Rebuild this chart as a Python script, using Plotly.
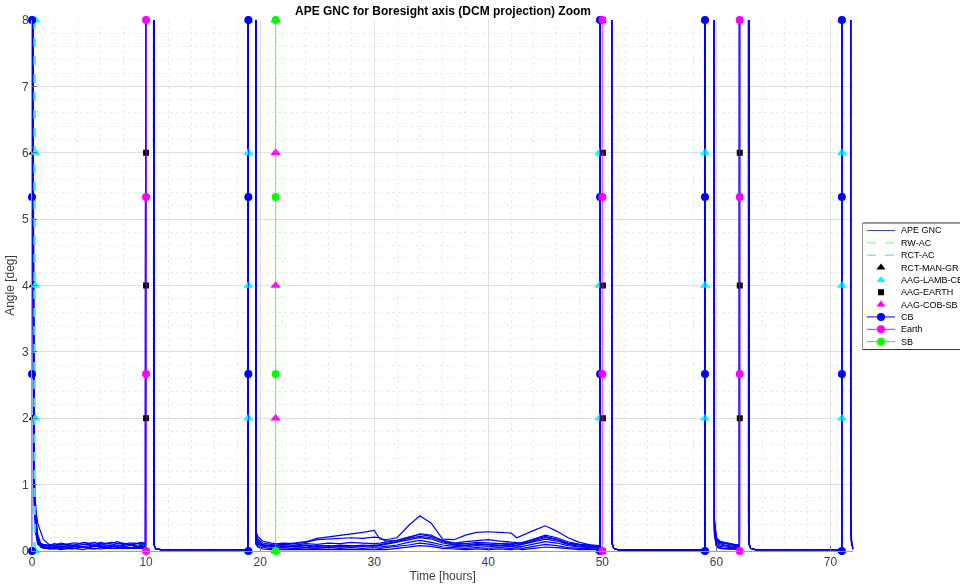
import plotly.graph_objects as go

# ------------------------------------------------------------------ data
x_range = [0, 72]
y_range = [0, 8]
x_ticks = [0, 10, 20, 30, 40, 50, 60, 70]
y_ticks = [0, 1, 2, 3, 4, 5, 6, 7, 8]

# event lines (hours)
cb_times = [0.0, 18.97, 49.8, 59.0, 71.0]
earth_times = [10.0, 50.0, 62.05]
sb_times = [21.36]
event_levels = [0.0, 8 / 3, 16 / 3, 8.0]

rw_ac_times = [0.22]
rct_ac_times = [0.25]
rct_man_gr_times = [0.05]
aag_lamb_cb_times = [0.3, 18.97, 49.75, 59.0, 71.0]
aag_earth_times = [10.0, 50.05, 62.05]
aag_cob_sb_times = [21.36]
aag_levels = [0, 2, 4, 6, 8]

# slews (APE off scale)
slew_start = [10.0, 18.97, 49.85, 59.0, 62.05, 71.0]
slew_end = [10.64, 19.6, 50.8, 59.8, 62.8, 71.75]
slew_level = 45.0

# segment A : 0 .. 10 h
seg_A_time = [0, 0.1, 0.2, 0.35, 0.5, 0.75, 1, 1.5, 2, 2.5, 3, 3.5, 4, 4.5, 5, 5.5, 6, 6.5, 7, 7.5, 8, 8.5, 9, 9.5, 9.95]
seg_A_runs = [
    [40, 6.0, 1.2, 0.50, 0.25, 0.12, 0.09, 0.08, 0.07, 0.10, 0.09, 0.07, 0.08, 0.10, 0.10, 0.08, 0.11, 0.09, 0.09, 0.11, 0.10, 0.12, 0.12, 0.10, 0.11],
    [40, 5.0, 0.9, 0.35, 0.15, 0.08, 0.06, 0.05, 0.06, 0.04, 0.05, 0.07, 0.07, 0.05, 0.06, 0.08, 0.08, 0.06, 0.07, 0.05, 0.06, 0.08, 0.08, 0.06, 0.07],
    [40, 7.0, 1.0, 0.60, 0.42, 0.30, 0.17, 0.10, 0.09, 0.12, 0.11, 0.09, 0.10, 0.13, 0.12, 0.10, 0.13, 0.11, 0.12, 0.14, 0.11, 0.09, 0.10, 0.13, 0.12],
    [40, 4.0, 0.7, 0.30, 0.12, 0.06, 0.04, 0.04, 0.03, 0.05, 0.04, 0.03, 0.05, 0.06, 0.04, 0.03, 0.05, 0.06, 0.04, 0.05, 0.05, 0.04, 0.06, 0.05, 0.05],
    [40, 5.5, 0.8, 0.40, 0.20, 0.10, 0.08, 0.07, 0.08, 0.06, 0.07, 0.09, 0.06, 0.07, 0.08, 0.09, 0.07, 0.08, 0.09, 0.07, 0.08, 0.10, 0.07, 0.08, 0.09],
    [40, 3.5, 0.6, 0.25, 0.10, 0.07, 0.05, 0.06, 0.05, 0.07, 0.06, 0.05, 0.04, 0.06, 0.05, 0.07, 0.06, 0.05, 0.06, 0.08, 0.07, 0.05, 0.05, 0.07, 0.06],
    [40, 6.5, 1.1, 0.45, 0.18, 0.11, 0.10, 0.09, 0.11, 0.09, 0.10, 0.12, 0.12, 0.10, 0.11, 0.13, 0.10, 0.12, 0.13, 0.11, 0.12, 0.10, 0.11, 0.12, 0.10],
    [40, 4.5, 0.85, 0.28, 0.14, 0.09, 0.07, 0.03, 0.04, 0.02, 0.03, 0.04, 0.03, 0.02, 0.04, 0.03, 0.03, 0.04, 0.04, 0.03, 0.03, 0.04, 0.04, 0.03, 0.04],
]

# segment B : 10.64 .. 18.97 h (same for all runs)
seg_B_time = [10.66, 10.72, 10.85, 11.3, 18.95]
seg_B_vals = [0.35, 0.08, 0.03, 0.02, 0.02]

# segment C : 19.6 .. 49.85 h
seg_C_time = [19.62, 19.8, 20.2, 21, 22, 23, 24, 25, 26, 27, 28, 29, 30, 30.5, 31, 32, 33, 34, 35,
              36, 37, 38, 39, 40, 41, 42, 42.5, 43, 44, 45, 46, 47, 48, 49, 49.82]
seg_C_runs = [
    [0.30, 0.22, 0.15, 0.12, 0.10, 0.12, 0.14, 0.19, 0.21, 0.23, 0.26, 0.28, 0.31, 0.18, 0.17, 0.20, 0.38, 0.53,
     0.42, 0.18, 0.17, 0.24, 0.28, 0.29, 0.28, 0.27, 0.20, 0.24, 0.31, 0.38, 0.30, 0.20, 0.13, 0.09, 0.07],
    [0.25, 0.18, 0.12, 0.10, 0.12, 0.11, 0.13, 0.17, 0.18, 0.19, 0.20, 0.19, 0.21, 0.20, 0.15, 0.16, 0.20, 0.26,
     0.24, 0.15, 0.12, 0.14, 0.16, 0.17, 0.15, 0.14, 0.13, 0.12, 0.18, 0.24, 0.20, 0.14, 0.10, 0.08, 0.06],
    [0.20, 0.14, 0.09, 0.08, 0.10, 0.09, 0.11, 0.10, 0.12, 0.11, 0.13, 0.12, 0.11, 0.12, 0.13, 0.16, 0.21, 0.25,
     0.22, 0.16, 0.12, 0.11, 0.13, 0.12, 0.11, 0.12, 0.11, 0.13, 0.17, 0.22, 0.18, 0.12, 0.10, 0.09, 0.08],
    [0.15, 0.10, 0.07, 0.06, 0.05, 0.07, 0.06, 0.08, 0.07, 0.09, 0.08, 0.07, 0.09, 0.08, 0.10, 0.13, 0.17, 0.20,
     0.18, 0.12, 0.09, 0.08, 0.10, 0.09, 0.08, 0.09, 0.08, 0.10, 0.14, 0.18, 0.15, 0.10, 0.07, 0.06, 0.05],
    [0.27, 0.16, 0.10, 0.07, 0.08, 0.06, 0.05, 0.06, 0.05, 0.07, 0.06, 0.08, 0.07, 0.06, 0.07, 0.09, 0.13, 0.16,
     0.13, 0.09, 0.07, 0.06, 0.08, 0.07, 0.06, 0.07, 0.06, 0.07, 0.10, 0.14, 0.12, 0.08, 0.06, 0.05, 0.04],
    [0.12, 0.08, 0.05, 0.04, 0.03, 0.04, 0.03, 0.04, 0.05, 0.04, 0.05, 0.04, 0.05, 0.04, 0.05, 0.06, 0.09, 0.12,
     0.10, 0.06, 0.05, 0.04, 0.05, 0.04, 0.05, 0.04, 0.05, 0.04, 0.07, 0.10, 0.08, 0.05, 0.04, 0.03, 0.03],
    [0.22, 0.12, 0.08, 0.09, 0.07, 0.08, 0.09, 0.07, 0.08, 0.06, 0.07, 0.09, 0.08, 0.09, 0.11, 0.14, 0.19, 0.22,
     0.20, 0.14, 0.10, 0.09, 0.11, 0.10, 0.09, 0.10, 0.09, 0.11, 0.15, 0.20, 0.17, 0.11, 0.09, 0.07, 0.06],
    [0.10, 0.06, 0.03, 0.02, 0.02, 0.03, 0.02, 0.03, 0.02, 0.03, 0.02, 0.03, 0.02, 0.03, 0.02, 0.04, 0.06, 0.08,
     0.07, 0.04, 0.03, 0.02, 0.03, 0.02, 0.03, 0.02, 0.03, 0.02, 0.04, 0.06, 0.05, 0.03, 0.02, 0.02, 0.02],
]

# segment D : 50.8 .. 59.0 h
seg_D_time = [50.82, 50.88, 51.0, 51.4, 58.98]
seg_D_vals = [0.4, 0.1, 0.04, 0.015, 0.015]

# segment E : 59.8 .. 62.05 h
seg_E_time = [59.82, 60.0, 60.3, 60.7, 61.2, 61.6, 62.02]
seg_E_runs = [
    [0.50, 0.20, 0.15, 0.13, 0.11, 0.10, 0.09],
    [0.40, 0.17, 0.13, 0.11, 0.10, 0.08, 0.07],
    [0.45, 0.15, 0.11, 0.09, 0.08, 0.07, 0.06],
    [0.35, 0.13, 0.09, 0.08, 0.06, 0.05, 0.05],
    [0.30, 0.10, 0.07, 0.06, 0.05, 0.04, 0.04],
    [0.30, 0.08, 0.05, 0.04, 0.04, 0.03, 0.03],
    [0.45, 0.18, 0.14, 0.12, 0.10, 0.09, 0.08],
    [0.25, 0.06, 0.04, 0.03, 0.03, 0.02, 0.02],
]

# segment F : 62.8 .. 71.0 h
seg_F_time = [62.82, 62.88, 63.0, 63.4, 70.98]
seg_F_vals = [0.4, 0.1, 0.04, 0.02, 0.02]

# segment G : 71.75 .. 72 h
seg_G_time = [71.77, 71.85, 71.92, 72.0]
seg_G_vals = [0.5, 0.12, 0.05, 0.03]

legend_labels = ["APE GNC", "RW-AC", "RCT-AC", "RCT-MAN-GR", "AAG-LAMB-CB",
                 "AAG-EARTH", "AAG-COB-SB", "CB", "Earth", "SB"]

# ------------------------------------------------------------------ build
FONT = "Liberation Sans, Arial, Helvetica, sans-serif"
n_runs = len(seg_A_runs)

ape_x, ape_y = [], []
for r in range(n_runs):
    segs = [
        (seg_A_time, seg_A_runs[r]),
        (seg_B_time, seg_B_vals),
        (seg_C_time, seg_C_runs[r]),
        (seg_D_time, seg_D_vals),
        (seg_E_time, seg_E_runs[r]),
        (seg_F_time, seg_F_vals),
        (seg_G_time, seg_G_vals),
    ]
    for k, (t, v) in enumerate(segs):
        ape_x += list(t)
        ape_y += list(v)
        if k < len(slew_start):
            ape_x += [slew_start[k], slew_end[k]]
            ape_y += [slew_level, slew_level]
    ape_x.append(None)
    ape_y.append(None)


def vlines(times, levels):
    xs, ys = [], []
    for t in times:
        xs += [t] * len(levels) + [None]
        ys += list(levels) + [None]
    return xs, ys


def pts(times, levels):
    xs, ys = [], []
    for t in times:
        xs += [t] * len(levels)
        ys += list(levels)
    return xs, ys


fig = go.Figure()

fig.add_trace(go.Scatter(
    x=ape_x, y=ape_y, mode="lines", line=dict(color="#0000ff", width=1.2),
    name="APE GNC", hoverinfo="skip"))

x, y = vlines(rw_ac_times, [0, 8])
fig.add_trace(go.Scatter(x=x, y=y, mode="lines", line=dict(color="#55ff88", width=2.2, dash="dash"),
                         name="RW-AC", hoverinfo="skip"))
x, y = vlines(rct_ac_times, [0, 8])
fig.add_trace(go.Scatter(x=x, y=y, mode="lines", line=dict(color="#40e0e0", width=1.4, dash="dash"),
                         name="RCT-AC", hoverinfo="skip"))

marker_specs = [
    (rct_man_gr_times, "triangle-up", "#000000", 7),
    (aag_lamb_cb_times, "triangle-up", "#00ffff", 9),
    (aag_earth_times, "square", "#000000", 6),
    (aag_cob_sb_times, "triangle-up", "#ff00ff", 9),
]
for times, sym, col, sz in marker_specs:
    x, y = pts(times, aag_levels)
    fig.add_trace(go.Scatter(x=x, y=y, mode="markers", cliponaxis=False,
                             marker=dict(symbol=sym, color=col, size=sz, line=dict(width=0)),
                             hoverinfo="skip"))

for times, col in [(cb_times, "#0000ff"), (earth_times, "#ff00ff"), (sb_times, "#00ff00")]:
    x, y = vlines(times, event_levels)
    fig.add_trace(go.Scatter(x=x, y=y, mode="lines", cliponaxis=False,
                             line=dict(color=col, width=1), opacity=0.7, hoverinfo="skip"))
    fig.add_trace(go.Scatter(x=x, y=y, mode="markers", cliponaxis=False,
                             marker=dict(symbol="circle", color=col, size=8, line=dict(width=0)),
                             hoverinfo="skip"))

# ---------------------------------------------------------- custom legend
leg_y = [230.5 + 12.35 * i for i in range(len(legend_labels))]
leg_styles = [
    ("line", "#4444dd", "solid", None),
    ("line", "#66ff66", "dash", None),
    ("line", "#33e6e6", "dash", None),
    ("marker", "#000000", None, "triangle-up"),
    ("marker", "#00ffff", None, "triangle-up"),
    ("marker", "#000000", None, "square"),
    ("marker", "#ff00ff", None, "triangle-up"),
    ("both", "#0000ff", "solid", "circle"),
    ("both", "#ff00ff", "solid", "circle"),
    ("both", "#00ff00", "solid", "circle"),
]
for yy, (kind, col, dash, sym) in zip(leg_y, leg_styles):
    if kind in ("line", "both"):
        fig.add_trace(go.Scatter(x=[867, 895], y=[yy, yy], mode="lines", xaxis="x2", yaxis="y2",
                                 line=dict(color=col, width=1, dash=dash), hoverinfo="skip"))
    if kind in ("marker", "both"):
        fig.add_trace(go.Scatter(x=[881], y=[yy], mode="markers", xaxis="x2", yaxis="y2",
                                 marker=dict(symbol=sym, color=col,
                                             size=8 if sym == "circle" else (6 if sym == "square" else 8),
                                             line=dict(width=0)),
                                 hoverinfo="skip"))

annotations = []
for yy, lab in zip(leg_y, legend_labels):
    annotations.append(dict(x=899, y=yy, xref="x2", yref="y2", text=lab, showarrow=False,
                            xanchor="left", yanchor="middle",
                            font=dict(family=FONT, size=9, color="#000000")))

shapes = [dict(type="rect", xref="x2", yref="y2", x0=862.5, x1=1000, y0=223, y1=349.5,
               line=dict(color="#000000", width=0.8), fillcolor="rgba(255,255,255,0)", layer="below")]

# ------------------------------------------------------------------ layout
axis_common = dict(
    showgrid=True, gridcolor="#e0e0e0", gridwidth=1, zeroline=False,
    showline=True, linecolor="#a0a0a0", linewidth=1, mirror=False,
    ticks="inside", ticklen=5, tickcolor="#707070", automargin=False,
    tickfont=dict(family=FONT, size=12, color="#404040"),
)

fig.update_layout(
    width=960, height=585,
    margin=dict(l=32, r=0, t=20, b=34),
    paper_bgcolor="white", plot_bgcolor="white",
    showlegend=False,
    title=dict(text="<b>APE GNC for Boresight axis (DCM projection) Zoom</b>",
               xref="container", yref="container", x=443 / 960, y=1 - 11 / 585,
               xanchor="center", yanchor="middle", automargin=False,
               font=dict(family=FONT, size=12, color="#000000")),
    xaxis=dict(domain=[0, 0.885], range=x_range, tickvals=x_ticks,
               minor=dict(dtick=2, tick0=0, showgrid=True, gridcolor="#ebebeb", griddash="dot", ticks=""),
               title=dict(text="Time [hours]", standoff=3,
                          font=dict(family=FONT, size=12, color="#404040")),
               **axis_common),
    yaxis=dict(domain=[0, 1], range=y_range, tickvals=y_ticks,
               minor=dict(dtick=0.2, tick0=0, showgrid=True, gridcolor="#ebebeb", griddash="dot", ticks=""),
               title=dict(text="Angle [deg]", standoff=4,
                          font=dict(family=FONT, size=12, color="#404040")),
               **axis_common),
    xaxis2=dict(domain=[(862.5 - 32) / 928, 1.0], range=[862.5, 960], anchor="y2",
                visible=False, fixedrange=True),
    yaxis2=dict(domain=[(551 - 351) / 531, (551 - 221) / 531], range=[351, 221], anchor="x2",
                visible=False, fixedrange=True),
    annotations=annotations,
    shapes=shapes,
)

fig.write_html("out.html", config={"displayModeBar": False},
               post_script="document.body.style.margin='0';document.body.style.overflow='hidden';")
